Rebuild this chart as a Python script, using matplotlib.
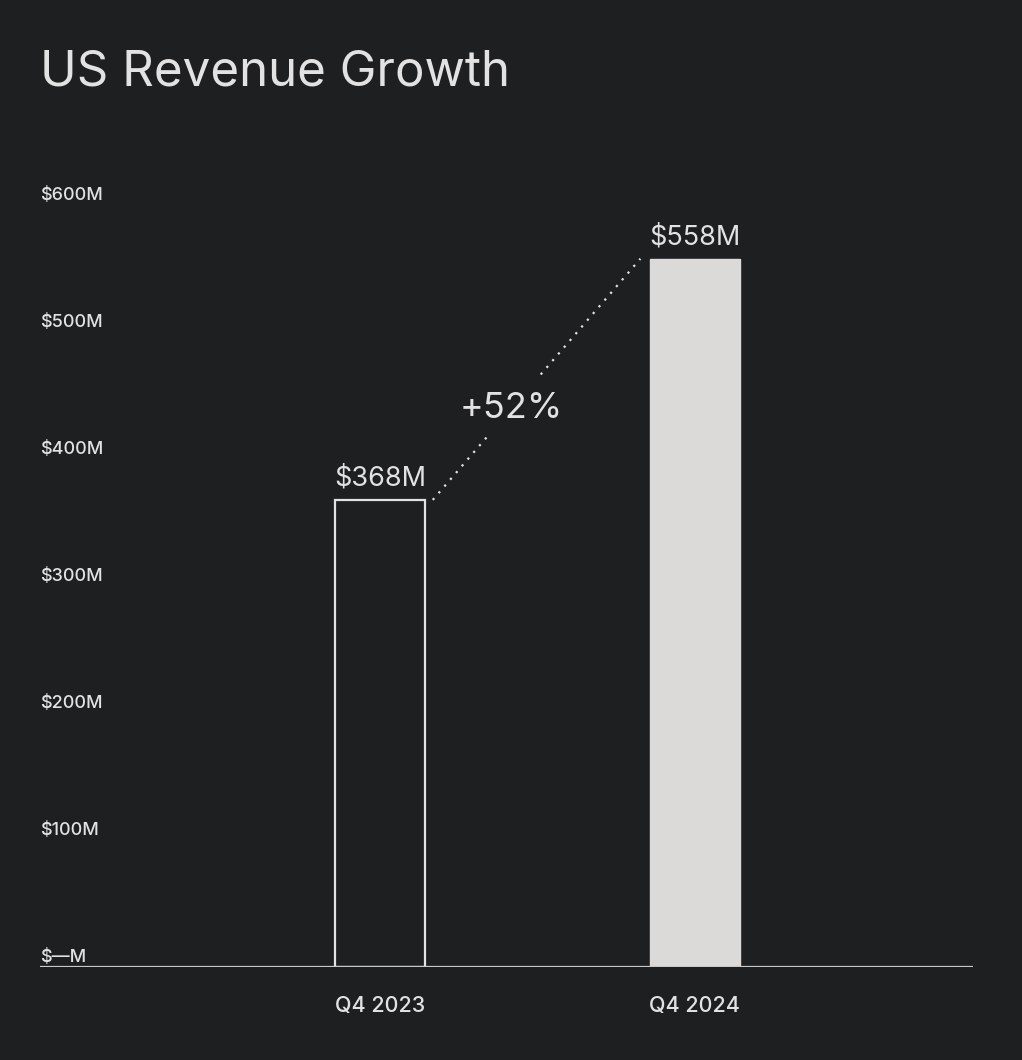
import numpy as np
import matplotlib
matplotlib.use('Agg')
import matplotlib.pyplot as plt
from matplotlib import transforms

# data
quarters = ['Q4 2023', 'Q4 2024']
revenue = [368, 558]  # $M
value_labels = ['$368M', '$558M']
growth_label = '+52%'
yticks = [0, 100, 200, 300, 400, 500, 600]
ytick_labels = ['$\u2014M', '$100M', '$200M', '$300M', '$400M', '$500M', '$600M']

bg = '#1d1f21'
fg = '#e2e2e2'
bar_fill = '#dcdad9'

plt.rcParams['font.family'] = ['Inter', 'DejaVu Sans']

fig = plt.figure(figsize=(10.22, 10.6), dpi=100)
fig.patch.set_facecolor(bg)
ax = fig.add_axes([0.0391, 0.0877, 0.913, 0.7425])
ax.set_facecolor(bg)

x = np.arange(len(quarters))
w = 0.286
bars = ax.bar(x, revenue, width=w, zorder=3)
bars[0].set_facecolor(bg)
bars[0].set_edgecolor(fg)
bars[0].set_linewidth(1.6)
bars[1].set_facecolor(bar_fill)
bars[1].set_edgecolor(bar_fill)

ax.set_xlim(-1.079, 1.883)
ax.set_ylim(0, 620)
ax.axhline(0, color='#c9c9c9', lw=1.6, zorder=4)
for s in ax.spines.values():
    s.set_visible(False)

ax.set_xticks(x, quarters)
ax.tick_params(axis='x', length=0, pad=21, labelsize=15.5, labelcolor=fg)
for lab in ax.get_xticklabels():
    lab.set_fontweight('medium')
ax.set_yticks([])

# y labels, left aligned on the axis edge, nudged above the value
trans = transforms.blended_transform_factory(ax.transAxes, ax.transData)
off = transforms.offset_copy(trans, fig=fig, x=0, y=10, units='dots')
for v, lab in zip(yticks, ytick_labels):
    ax.text(0, v, lab, transform=off, ha='left', va='center',
            fontsize=13, fontweight='medium', color=fg)

# value labels
for xi, v, lab in zip(x, revenue, value_labels):
    ax.annotate(lab, (xi, v), xytext=(0, 10), textcoords='offset points',
                ha='center', va='baseline', fontsize=19.5, color=fg)

# dotted connector with a gap for the growth label
x0, x1 = x[0] + w / 2 + 0.025, x[1] - w / 2 - 0.03
y0, y1 = revenue[0], revenue[1]
for t0, t1 in [(0.0, 0.26), (0.52, 1.0)]:
    ax.plot([x0 + t0 * (x1 - x0), x0 + t1 * (x1 - x0)],
            [y0 + t0 * (y1 - y0), y0 + t1 * (y1 - y0)],
            color=fg, lw=1.6, ls=(0, (1, 3)), zorder=2)
tm = 0.38
ax.text(x0 + tm * (x1 - x0), y0 + tm * (y1 - y0), growth_label,
        ha='center', va='center', fontsize=26, color=fg)

fig.text(0.0391, 1 - 85 / 1060, 'US Revenue Growth', ha='left', va='baseline',
         fontsize=35.5, color=fg)

fig.savefig('out.png', dpi=100, facecolor=bg)
